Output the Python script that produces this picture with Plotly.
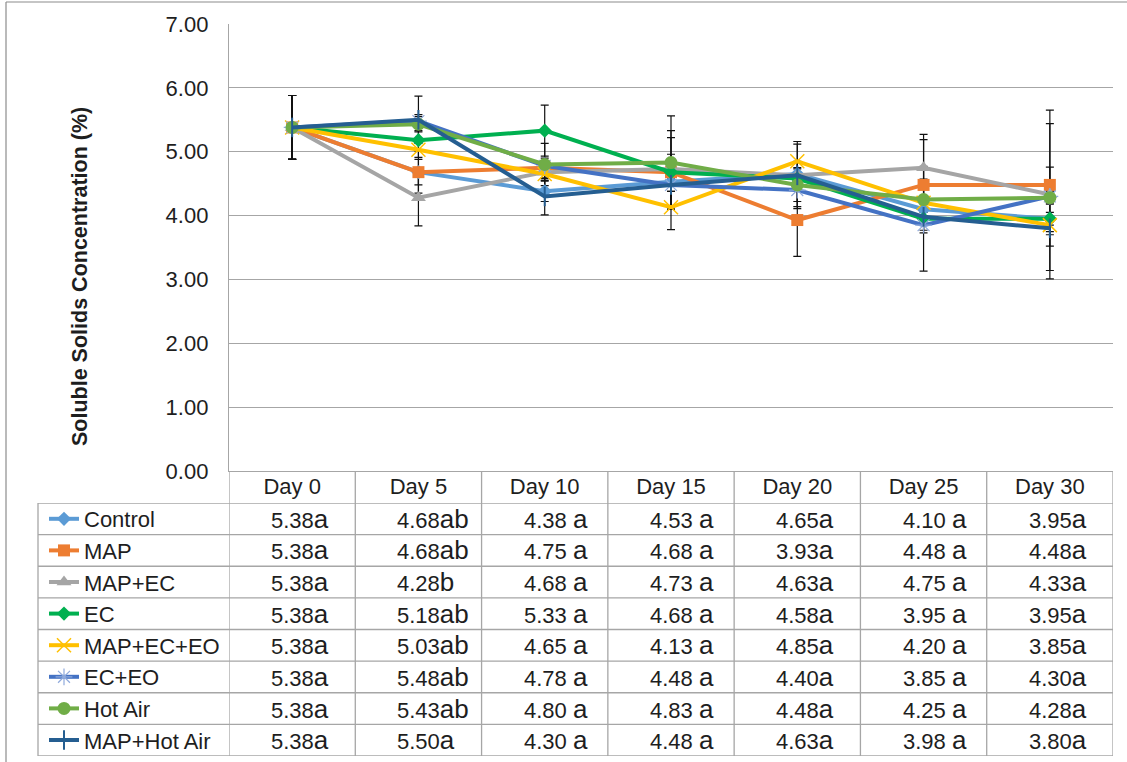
import plotly.graph_objects as go

# ---- data -------------------------------------------------------------
days = ["Day 0", "Day 5", "Day 10", "Day 15", "Day 20", "Day 25", "Day 30"]
treatments = ["Control", "MAP", "MAP+EC", "EC", "MAP+EC+EO", "EC+EO", "Hot Air", "MAP+Hot Air"]

control = [5.38, 4.68, 4.38, 4.53, 4.65, 4.10, 3.95]
map_ = [5.38, 4.68, 4.75, 4.68, 3.93, 4.48, 4.48]
map_ec = [5.38, 4.28, 4.68, 4.73, 4.63, 4.75, 4.33]
ec = [5.38, 5.18, 5.33, 4.68, 4.58, 3.95, 3.95]
map_ec_eo = [5.38, 5.03, 4.65, 4.13, 4.85, 4.20, 3.85]
ec_eo = [5.38, 5.48, 4.78, 4.48, 4.40, 3.85, 4.30]
hot_air = [5.38, 5.43, 4.80, 4.83, 4.48, 4.25, 4.28]
map_hot_air = [5.38, 5.50, 4.30, 4.48, 4.63, 3.98, 3.80]

# standard deviations (symmetric error bars)
control_sd = [0.50, 0.20, 0.16, 0.43, 0.10, 0.10, 0.81]
map_sd = [0.50, 0.33, 0.10, 0.10, 0.57, 0.71, 0.96]
map_ec_sd = [0.50, 0.44, 0.10, 0.60, 0.10, 0.52, 1.32]
ec_sd = [0.50, 0.15, 0.40, 0.54, 0.10, 0.10, 0.10]
map_ec_eo_sd = [0.50, 0.12, 0.10, 0.35, 0.31, 0.10, 0.10]
ec_eo_sd = [0.50, 0.10, 0.12, 0.10, 0.18, 0.72, 0.10]
hot_air_sd = [0.50, 0.12, 0.33, 0.73, 0.37, 0.52, 0.10]
map_hot_air_sd = [0.50, 0.37, 0.29, 0.10, 0.49, 0.10, 0.10]

# significance letters (Duncan groups)
control_sig = ["a", "ab", "a", "a", "a", "a", "a"]
map_sig = ["a", "ab", "a", "a", "a", "a", "a"]
map_ec_sig = ["a", "b", "a", "a", "a", "a", "a"]
ec_sig = ["a", "ab", "a", "a", "a", "a", "a"]
map_ec_eo_sig = ["a", "ab", "a", "a", "a", "a", "a"]
ec_eo_sig = ["a", "ab", "a", "a", "a", "a", "a"]
hot_air_sig = ["a", "ab", "a", "a", "a", "a", "a"]
map_hot_air_sig = ["a", "a", "a", "a", "a", "a", "a"]

y_ticks = [0, 1, 2, 3, 4, 5, 6, 7]

series_values = [control, map_, map_ec, ec, map_ec_eo, ec_eo, hot_air, map_hot_air]
series_sd = [control_sd, map_sd, map_ec_sd, ec_sd, map_ec_eo_sd, ec_eo_sd, hot_air_sd, map_hot_air_sd]
series_sig = [control_sig, map_sig, map_ec_sig, ec_sig, map_ec_eo_sig, ec_eo_sig, hot_air_sig, map_hot_air_sig]

# ---- styling ----------------------------------------------------------
W, H = 1127, 762
FONT = "Liberation Sans, Arial, sans-serif"
TXT = "#1e1e1e"
GRID = "#a6a6a6"

styles = [
    dict(color="#5B9BD5", symbol="diamond", size=11, lw=0, lc="#5B9BD5"),
    dict(color="#ED7D31", symbol="square", size=12, lw=0, lc="#ED7D31"),
    dict(color="#A5A5A5", symbol="triangle-up", size=13, lw=0, lc="#A5A5A5"),
    dict(color="#00B050", symbol="diamond", size=11, lw=0, lc="#00B050"),
    dict(color="#FFC000", symbol="x-thin", size=14, lw=1.5, lc="#FFC000"),
    dict(color="#4472C4", symbol="asterisk", size=14, lw=1.2, lc="#8FAADC"),
    dict(color="#70AD47", symbol="circle", size=13, lw=0, lc="#70AD47"),
    dict(color="#255E91", symbol="line-ns", size=14, lw=2, lc="#255E91"),
]


def px(x):
    return x / W


def py(y):
    return 1 - y / H


# plot area and data-table geometry (pixels)
PL, PR, PT, PB = 229, 1113, 24, 471
TAB_TOP, TAB_BOT, TAB_LEFT = 503, 756, 38

fig = go.Figure()
xi = list(range(len(days)))

# error bars first so the lines sit on top of them
for vals, sd in zip(series_values, series_sd):
    fig.add_trace(go.Scatter(
        x=xi, y=vals, mode="markers", marker=dict(opacity=0, size=1),
        error_y=dict(type="data", array=sd, visible=True, color="#111111",
                     thickness=1.2, width=4),
        showlegend=False, hoverinfo="skip", xaxis="x", yaxis="y"))

for name, vals, st in zip(treatments, series_values, styles):
    fig.add_trace(go.Scatter(
        x=xi, y=vals, mode="lines+markers", name=name, legendgroup=name,
        line=dict(color=st["color"], width=4),
        marker=dict(symbol=st["symbol"], size=st["size"], color=st["color"],
                    line=dict(width=st["lw"], color=st["lc"])),
        xaxis="x", yaxis="y"))

shapes = []
# outer chart border
shapes.append(dict(type="line", xref="paper", yref="paper", x0=px(6), x1=1.0,
                   y0=py(2), y1=py(2), line=dict(color="#8c8c8c", width=1.2)))
shapes.append(dict(type="line", xref="paper", yref="paper", x0=px(6), x1=px(6),
                   y0=py(2), y1=0, line=dict(color="#8c8c8c", width=1.2)))
# data table: vertical separators between day columns
for k in range(len(days) + 1):
    shapes.append(dict(type="line", xref="x", yref="paper", x0=k - 0.5, x1=k - 0.5,
                       y0=py(PB), y1=py(TAB_BOT), line=dict(color=GRID, width=1.3)))
# legend column left edge
shapes.append(dict(type="line", xref="paper", yref="paper", x0=px(TAB_LEFT), x1=px(TAB_LEFT),
                   y0=py(TAB_TOP), y1=py(TAB_BOT), line=dict(color=GRID, width=1.3)))
# row separators
for r in range(len(treatments) + 1):
    shapes.append(dict(type="line", xref="paper", yref="y2", x0=px(TAB_LEFT), x1=px(PR),
                       y0=r - 0.5, y1=r - 0.5, line=dict(color=GRID, width=1.3)))

annotations = []
# table values with significance letters
gap_after_value = ["", "", " ", " ", "", " ", ""]
for r, (vals, sig) in enumerate(zip(series_values, series_sig)):
    for c, (v, s) in enumerate(zip(vals, sig)):
        annotations.append(dict(
            x=c, y=r, xref="x2", yref="y2", xanchor="left", yanchor="middle",
            xshift=-23, showarrow=False,
            text=f"{v:.2f}{gap_after_value[c]}<span style='font-size:26px'>{s}</span>",
            font=dict(family=FONT, size=22, color=TXT)))

# y-axis title
annotations.append(dict(
    x=px(80), y=py(277), xref="paper", yref="paper", showarrow=False,
    xanchor="center", yanchor="middle",
    textangle=-90, text="<b>Soluble Solids Concentration (%)</b>",
    font=dict(family=FONT, size=21.5, color=TXT)))

fig.update_layout(
    width=W, height=H, margin=dict(l=0, r=0, t=0, b=0, autoexpand=False),
    paper_bgcolor="white", plot_bgcolor="white",
    font=dict(family=FONT, size=22, color=TXT),
    xaxis=dict(domain=[px(PL), px(PR)], range=[-0.5, len(days) - 0.5],
               tickmode="array", tickvals=xi, ticktext=days, showgrid=False,
               zeroline=False, showline=True, linecolor=GRID, linewidth=1.3,
               ticks="", ticklabelstandoff=-5, anchor="y", automargin=False,
               tickfont=dict(family=FONT, size=22, color=TXT)),
    yaxis=dict(domain=[py(PB), py(PT)], range=[0, 7], tickvals=y_ticks,
               tickformat=".2f", showgrid=True, gridcolor=GRID, gridwidth=1.3,
               zeroline=False, showline=True, linecolor=GRID, linewidth=1.3,
               ticks="", ticklabelstandoff=15, anchor="x", automargin=False,
               tickfont=dict(family=FONT, size=22, color=TXT)),
    xaxis2=dict(domain=[px(PL), px(PR)], range=[-0.5, len(days) - 0.5],
                visible=False, anchor="y2"),
    yaxis2=dict(domain=[py(TAB_BOT), py(TAB_TOP)], range=[len(treatments) - 0.5, -0.5],
                visible=False, anchor="x2"),
    legend=dict(x=px(TAB_LEFT + 6), y=py(TAB_TOP - 5), xanchor="left", yanchor="top",
                bgcolor="rgba(0,0,0,0)", borderwidth=0, tracegroupgap=0,
                font=dict(family=FONT, size=22, color=TXT), itemsizing="trace"),
    shapes=shapes, annotations=annotations, showlegend=True,
)

fig.write_html("out.html")
